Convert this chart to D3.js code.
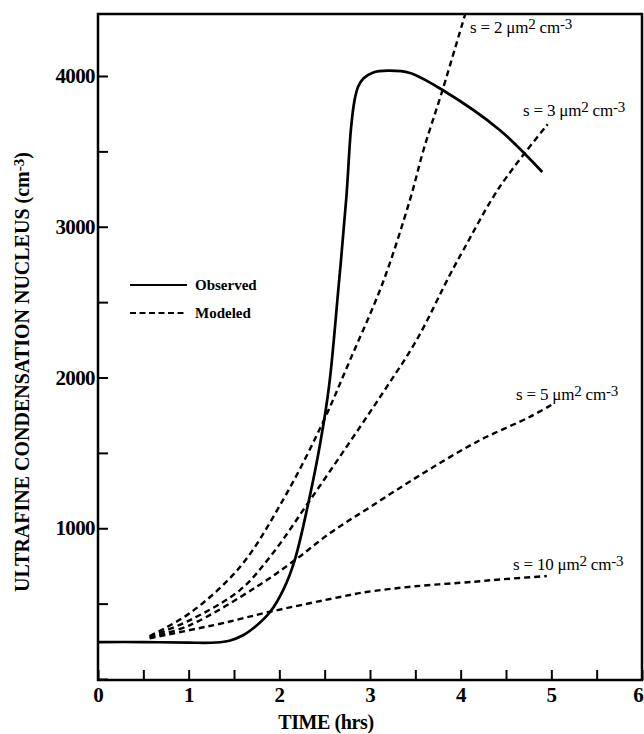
<!DOCTYPE html>
<html>
<head>
<meta charset="utf-8">
<script src="https://cdn.jsdelivr.net/npm/d3@7"></script>
<style>
  html, body { margin: 0; padding: 0; background: #fff; }
  svg { display: block; }
  text { font-family: "Liberation Serif", "Times New Roman", serif; font-weight: bold; fill: #000; }
</style>
</head>
<body>
<svg id="chart" width="644" height="734"></svg>
<script>
// Observed ultrafine condensation nucleus concentration [time (hrs), cm^-3]
const observed = [
  [0, 245], [0.5, 245], [1.0, 241], [1.3, 242], [1.45, 254], [1.6, 290],
  [1.75, 355], [1.9, 446], [2.05, 600], [2.17, 789], [2.32, 1167],
  [2.45, 1560], [2.55, 1950], [2.65, 2580], [2.74, 3200], [2.79, 3650],
  [2.83, 3840], [2.87, 3930], [2.93, 3985], [3.03, 4022], [3.2, 4035],
  [3.44, 4020], [3.8, 3907], [4.43, 3642], [4.9, 3363]
];

// Modeled concentrations for different aerosol surface areas s
const modeledS2 = [
  [0.57, 285], [1.015, 438], [1.566, 743], [2.04, 1187], [2.467, 1685],
  [2.78, 2116], [3.14, 2627], [3.44, 3177], [3.59, 3509], [3.8, 3907],
  [4.05, 4411]
];
const modeledS3 = [
  [0.57, 280], [1.015, 391], [1.566, 590], [1.93, 836], [2.316, 1167],
  [2.74, 1539], [3.14, 1897], [3.515, 2249], [3.88, 2680], [4.03, 2846],
  [4.43, 3264], [4.96, 3680]
];
const modeledS5 = [
  [0.57, 275], [1.015, 358], [1.75, 612], [2.173, 789], [2.56, 968],
  [3.0, 1140], [3.6, 1370], [4.2, 1580], [4.76, 1738], [5.0, 1818]
];
const modeledS10 = [
  [0.57, 270], [1.015, 325], [1.38, 371], [1.897, 446], [2.67, 544],
  [2.96, 577], [3.5, 615], [4.14, 645], [4.43, 660], [4.95, 683]
];

const modeledLabels = ["s = 2", "s = 3", "s = 5", "s = 10"];
const xTicks = [0, 0.5, 1, 1.5, 2, 2.5, 3, 3.5, 4, 4.5, 5, 5.5, 6];
const yTicks = [0, 500, 1000, 1500, 2000, 2500, 3000, 3500, 4000];
const legendLabels = ["Observed", "Modeled"];

const svg = d3.select("#chart");
const plotLeft = 98, plotRight = 642, plotTop = 14, plotBottom = 680;

const x = d3.scaleLinear().domain([0, 6]).range([plotLeft, plotRight]);
const y = d3.scaleLinear().domain([0, 4000]).range([679, 76]);

// Frame
svg.append("rect")
  .attr("x", plotLeft).attr("y", plotTop)
  .attr("width", plotRight - plotLeft).attr("height", plotBottom - plotTop)
  .attr("fill", "none").attr("stroke", "#000").attr("stroke-width", 2.5);

// Axes with inward ticks
const xAxis = d3.axisBottom(x)
  .tickValues(xTicks)
  .tickSize(-10)
  .tickPadding(7)
  .tickFormat(d => Number.isInteger(d) ? d3.format("d")(d) : "");
const gx = svg.append("g").attr("transform", `translate(0,${plotBottom})`).call(xAxis);

const yAxis = d3.axisLeft(y)
  .tickValues(yTicks)
  .tickSize(-10)
  .tickPadding(3)
  .tickFormat(d => (d > 0 && d % 1000 === 0) ? d3.format("d")(d) : "");
const gy = svg.append("g").attr("transform", `translate(${plotLeft},0)`).call(yAxis);

[gx, gy].forEach(g => {
  g.select(".domain").remove();
  g.selectAll(".tick line").attr("stroke", "#000").attr("stroke-width", 2);
  g.selectAll(".tick text")
    .style("font-family", '"Liberation Serif", serif')
    .style("font-weight", "bold")
    .style("font-size", "21px")
    .attr("fill", "#000");
});
gy.selectAll(".tick text").attr("letter-spacing", "-0.6");
// keep the last x label inside the page edge
gx.selectAll(".tick text").filter(d => d === 6).attr("dx", -4);

// Axis titles
svg.append("text")
  .attr("x", 326).attr("y", 729)
  .attr("text-anchor", "middle")
  .style("font-size", "20px")
  .attr("letter-spacing", "-0.4")
  .text("TIME (hrs)");

const yTitle = svg.append("text")
  .attr("transform", "translate(29,372) rotate(-90)")
  .attr("text-anchor", "middle")
  .style("font-size", "20px");
yTitle.append("tspan").text("ULTRAFINE CONDENSATION NUCLEUS (cm");
yTitle.append("tspan").attr("dy", -5).style("font-size", "15px").text("-3");
yTitle.append("tspan").attr("dy", 5).text(")");

// Lines
const line = d3.line()
  .x(d => x(d[0]))
  .y(d => y(d[1]))
  .curve(d3.curveCatmullRom.alpha(0.5));

const modeled = [modeledS2, modeledS3, modeledS5, modeledS10];
svg.append("g").selectAll("path")
  .data(modeled)
  .join("path")
  .attr("d", line)
  .attr("fill", "none")
  .attr("stroke", "#000")
  .attr("stroke-width", 2.4)
  .attr("stroke-dasharray", "6,4");

svg.append("path")
  .datum(observed)
  .attr("d", line)
  .attr("fill", "none")
  .attr("stroke", "#000")
  .attr("stroke-width", 2.7)
  .attr("stroke-linejoin", "round");

// Curve labels
const labelPos = [[470, 33], [523, 116], [516, 400], [513, 570]];
modeledLabels.forEach((lab, i) => {
  const t = svg.append("text")
    .attr("x", labelPos[i][0]).attr("y", labelPos[i][1])
    .style("font-size", "17px")
    .style("font-weight", "normal")
    .attr("letter-spacing", "-0.2");
  t.append("tspan").text(lab + " \u03bcm");
  t.append("tspan").attr("dy", -4).style("font-size", "15px").text("2");
  t.append("tspan").attr("dy", 4).text(" cm");
  t.append("tspan").attr("dy", -4).style("font-size", "15px").text("-3");
});

// Legend
const legend = svg.append("g");
legend.append("line")
  .attr("x1", 130).attr("x2", 187).attr("y1", 285).attr("y2", 285)
  .attr("stroke", "#000").attr("stroke-width", 2);
legend.append("line")
  .attr("x1", 130).attr("x2", 187).attr("y1", 313).attr("y2", 313)
  .attr("stroke", "#000").attr("stroke-width", 2)
  .attr("stroke-dasharray", "6,3.5");
legendLabels.forEach((lab, i) => {
  legend.append("text")
    .attr("x", 195).attr("y", 285 + i * 28)
    .attr("dy", "0.35em")
    .style("font-size", "15px")
    .text(lab);
});
</script>
</body>
</html>
